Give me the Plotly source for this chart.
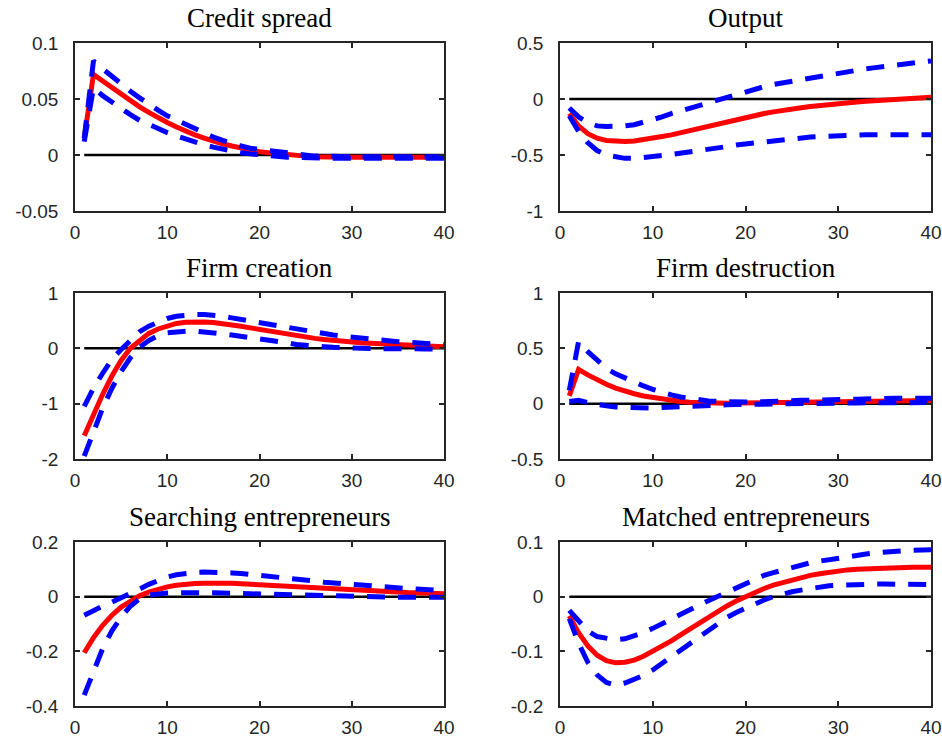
import plotly.graph_objects as go

horizon = list(range(1, 41))

titles = ["Credit spread", "Output", "Firm creation", "Firm destruction",
          "Searching entrepreneurs", "Matched entrepreneurs"]

x_ticks = [0, 10, 20, 30, 40]
x_ticklabels = ["0", "10", "20", "30", "40"]

# ---------------- Credit spread ----------------
cs_med = [0.015, 0.072, 0.066, 0.060, 0.054, 0.048, 0.043, 0.038, 0.033, 0.029,
          0.025, 0.021, 0.018, 0.015, 0.012, 0.010, 0.008, 0.006, 0.004, 0.003,
          0.002, 0.001, 0.000, -0.001, -0.001, -0.0015, -0.002, -0.002, -0.002, -0.002,
          -0.002, -0.002, -0.002, -0.002, -0.002, -0.002, -0.002, -0.002, -0.002, -0.002]
cs_up = [0.015, 0.084, 0.077, 0.070, 0.063, 0.057, 0.051, 0.045, 0.040, 0.035,
         0.031, 0.027, 0.023, 0.019, 0.016, 0.013, 0.010, 0.008, 0.006, 0.005,
         0.003, 0.002, 0.001, 0.000, -0.001, -0.001, -0.001, -0.0015, -0.0015, -0.0015,
         -0.0015, -0.0015, -0.0015, -0.0015, -0.0015, -0.0015, -0.0015, -0.0015, -0.0015, -0.0015]
cs_lo = [0.012, 0.060, 0.053, 0.047, 0.041, 0.036, 0.031, 0.027, 0.023, 0.020,
         0.017, 0.014, 0.011, 0.009, 0.007, 0.005, 0.004, 0.002, 0.001, 0.000,
         -0.001, -0.001, -0.002, -0.002, -0.0025, -0.0025, -0.003, -0.003, -0.003, -0.003,
         -0.003, -0.003, -0.003, -0.003, -0.003, -0.003, -0.003, -0.003, -0.003, -0.003]
cs_yticks = [-0.05, 0, 0.05, 0.1]
cs_yticklabels = ["-0.05", "0", "0.05", "0.1"]

# ---------------- Output ----------------
out_med = [-0.13, -0.24, -0.31, -0.35, -0.37, -0.38, -0.38, -0.375, -0.365, -0.35,
           -0.335, -0.32, -0.30, -0.28, -0.26, -0.24, -0.22, -0.20, -0.18, -0.16,
           -0.145, -0.13, -0.115, -0.10, -0.09, -0.078, -0.067, -0.057, -0.048, -0.04,
           -0.033, -0.026, -0.02, -0.014, -0.009, -0.005, 0.0, 0.005, 0.01, 0.015]
out_up = [-0.08, -0.16, -0.21, -0.24, -0.245, -0.245, -0.24, -0.23, -0.21, -0.185,
          -0.16, -0.13, -0.105, -0.08, -0.055, -0.03, -0.01, 0.015, 0.04, 0.065,
          0.09, 0.11, 0.13, 0.145, 0.16, 0.175, 0.19, 0.205, 0.22, 0.235,
          0.25, 0.26, 0.27, 0.28, 0.29, 0.30, 0.31, 0.32, 0.33, 0.34]
out_lo = [-0.15, -0.29, -0.39, -0.46, -0.50, -0.52, -0.53, -0.53, -0.525, -0.515,
          -0.505, -0.495, -0.485, -0.475, -0.465, -0.455, -0.44, -0.425, -0.41, -0.40,
          -0.39, -0.38, -0.37, -0.36, -0.355, -0.345, -0.34, -0.335, -0.33, -0.325,
          -0.32, -0.32, -0.32, -0.32, -0.32, -0.32, -0.32, -0.32, -0.32, -0.32]
out_yticks = [-1, -0.5, 0, 0.5]
out_yticklabels = ["-1", "-0.5", "0", "0.5"]

# ---------------- Firm creation ----------------
fc_med = [-1.58, -1.19, -0.83, -0.50, -0.22, 0.0, 0.15, 0.27, 0.35, 0.41,
          0.45, 0.47, 0.48, 0.475, 0.465, 0.45, 0.43, 0.40, 0.37, 0.34,
          0.31, 0.28, 0.25, 0.22, 0.20, 0.18, 0.16, 0.14, 0.125, 0.11,
          0.10, 0.09, 0.08, 0.07, 0.06, 0.05, 0.045, 0.04, 0.035, 0.03]
fc_up = [-1.05, -0.72, -0.45, -0.20, -0.02, 0.15, 0.30, 0.40, 0.48, 0.54,
         0.58, 0.60, 0.61, 0.61, 0.60, 0.58, 0.55, 0.52, 0.49, 0.46,
         0.43, 0.40, 0.37, 0.34, 0.31, 0.28, 0.26, 0.24, 0.22, 0.20,
         0.18, 0.16, 0.15, 0.13, 0.12, 0.11, 0.10, 0.09, 0.08, 0.07]
fc_lo = [-1.95, -1.50, -1.08, -0.72, -0.42, -0.17, 0.02, 0.14, 0.23, 0.28,
         0.30, 0.31, 0.31, 0.30, 0.28, 0.26, 0.24, 0.22, 0.20, 0.18,
         0.15, 0.12, 0.10, 0.07, 0.05, 0.04, 0.03, 0.02, 0.01, 0.005,
         0.0, -0.005, -0.005, -0.01, -0.01, -0.01, -0.01, -0.01, -0.01, -0.01]
fc_yticks = [-2, -1, 0, 1]
fc_yticklabels = ["-2", "-1", "0", "1"]

# ---------------- Firm destruction ----------------
fd_med = [0.07, 0.31, 0.26, 0.215, 0.175, 0.14, 0.11, 0.09, 0.07, 0.055,
          0.042, 0.03, 0.02, 0.013, 0.009, 0.006, 0.004, 0.004, 0.005, 0.006,
          0.007, 0.008, 0.01, 0.011, 0.012, 0.014, 0.015, 0.016, 0.018, 0.019,
          0.02, 0.021, 0.022, 0.023, 0.024, 0.025, 0.026, 0.027, 0.028, 0.029]
fd_up = [0.12, 0.56, 0.47, 0.39, 0.32, 0.27, 0.23, 0.19, 0.16, 0.13,
         0.10, 0.08, 0.06, 0.045, 0.035, 0.025, 0.02, 0.015, 0.015, 0.015,
         0.015, 0.02, 0.02, 0.025, 0.025, 0.03, 0.03, 0.035, 0.035, 0.04,
         0.04, 0.04, 0.045, 0.045, 0.045, 0.05, 0.05, 0.05, 0.05, 0.05]
fd_lo = [0.02, 0.03, 0.01, -0.01, -0.02, -0.03, -0.035, -0.04, -0.04, -0.04,
         -0.035, -0.03, -0.025, -0.02, -0.018, -0.015, -0.012, -0.01, -0.008, -0.006,
         -0.005, -0.003, -0.002, 0.0, 0.0, 0.002, 0.003, 0.004, 0.005, 0.006,
         0.007, 0.007, 0.008, 0.008, 0.009, 0.009, 0.01, 0.01, 0.01, 0.01]
fd_yticks = [-0.5, 0, 0.5, 1]
fd_yticklabels = ["-0.5", "0", "0.5", "1"]

# ---------------- Searching entrepreneurs ----------------
se_med = [-0.205, -0.15, -0.105, -0.068, -0.038, -0.015, 0.003, 0.017, 0.028, 0.036,
          0.042, 0.046, 0.048, 0.049, 0.05, 0.05, 0.049, 0.047, 0.045, 0.043,
          0.041, 0.039, 0.037, 0.035, 0.033, 0.031, 0.029, 0.027, 0.025, 0.023,
          0.022, 0.02, 0.019, 0.017, 0.016, 0.015, 0.014, 0.013, 0.012, 0.011]
se_up = [-0.068, -0.05, -0.035, -0.02, -0.005, 0.01, 0.028, 0.045, 0.06, 0.072,
         0.08, 0.086, 0.089, 0.09, 0.09, 0.089, 0.087, 0.085, 0.082, 0.079,
         0.076, 0.072, 0.068, 0.064, 0.06, 0.057, 0.053, 0.05, 0.047, 0.044,
         0.041, 0.038, 0.036, 0.034, 0.032, 0.03, 0.028, 0.026, 0.024, 0.022]
se_lo = [-0.36, -0.27, -0.19, -0.125, -0.075, -0.035, -0.008, 0.006, 0.011, 0.013,
         0.014, 0.015, 0.015, 0.015, 0.014, 0.013, 0.012, 0.011, 0.01, 0.009,
         0.008, 0.007, 0.006, 0.005, 0.004, 0.003, 0.002, 0.001, 0.0, 0.0,
         -0.001, -0.001, -0.001, -0.001, -0.002, -0.002, -0.002, -0.002, -0.002, -0.002]
se_yticks = [-0.4, -0.2, 0, 0.2]
se_yticklabels = ["-0.4", "-0.2", "0", "0.2"]

# ---------------- Matched entrepreneurs ----------------
me_med = [-0.035, -0.066, -0.09, -0.107, -0.117, -0.121, -0.12, -0.116, -0.109, -0.1,
          -0.091, -0.081, -0.07, -0.059, -0.048, -0.037, -0.027, -0.017, -0.008, 0.0,
          0.008, 0.015, 0.021, 0.026, 0.031, 0.035, 0.039, 0.042, 0.045, 0.047,
          0.049, 0.05, 0.051, 0.052, 0.053, 0.054, 0.054, 0.054, 0.054, 0.054]
me_up = [-0.025, -0.045, -0.063, -0.073, -0.077, -0.079, -0.077, -0.072, -0.066, -0.058,
         -0.05, -0.042, -0.033, -0.024, -0.015, -0.007, 0.001, 0.009, 0.017, 0.025,
         0.032, 0.039, 0.044, 0.049, 0.053, 0.058, 0.062, 0.065, 0.068, 0.071,
         0.073, 0.076, 0.078, 0.08, 0.082, 0.083, 0.084, 0.085, 0.086, 0.086]
me_lo = [-0.04, -0.085, -0.12, -0.143, -0.157, -0.162, -0.158, -0.152, -0.144, -0.134,
         -0.122, -0.11, -0.097, -0.085, -0.072, -0.06, -0.049, -0.038, -0.029, -0.021,
         -0.013, -0.006, 0.0, 0.005, 0.009, 0.012, 0.015, 0.018, 0.02, 0.021,
         0.022, 0.023, 0.023, 0.023, 0.023, 0.023, 0.023, 0.022, 0.022, 0.022]
me_yticks = [-0.2, -0.1, 0, 0.1]
me_yticklabels = ["-0.2", "-0.1", "0", "0.1"]

zero_line = [0.0] * 40

panels = [
    (cs_med, cs_up, cs_lo, [-0.05, 0.1], cs_yticks, cs_yticklabels),
    (out_med, out_up, out_lo, [-1, 0.5], out_yticks, out_yticklabels),
    (fc_med, fc_up, fc_lo, [-2, 1], fc_yticks, fc_yticklabels),
    (fd_med, fd_up, fd_lo, [-0.5, 1], fd_yticks, fd_yticklabels),
    (se_med, se_up, se_lo, [-0.4, 0.2], se_yticks, se_yticklabels),
    (me_med, me_up, me_lo, [-0.2, 0.1], me_yticks, me_yticklabels),
]

W, H = 942, 738
col_px = [(75, 444), (560, 931)]
row_px = [(43, 211), (293, 459), (542, 706)]

axis_color = "#262626"
tick_font = dict(family="Liberation Sans, Arial, sans-serif", size=19, color="#262626")
title_font = dict(family="Liberation Serif, Times New Roman, serif", size=27, color="#000000")

fig = go.Figure()
layout = dict(
    template="none",
    width=W, height=H,
    margin=dict(l=0, r=0, t=0, b=0, autoexpand=False),
    paper_bgcolor="white", plot_bgcolor="white",
    showlegend=False,
    annotations=[],
)

for i, (med, up, lo, yr, yt, ytl) in enumerate(panels):
    r, c = divmod(i, 2)
    n = i + 1
    xa = "x" if n == 1 else f"x{n}"
    ya = "y" if n == 1 else f"y{n}"
    x0, x1 = col_px[c]
    y0, y1 = row_px[r]
    xdom = [x0 / W, x1 / W]
    ydom = [1 - y1 / H, 1 - y0 / H]

    fig.add_trace(go.Scatter(x=horizon, y=zero_line, mode="lines",
                             line=dict(color="black", width=2.5),
                             xaxis=xa, yaxis=ya, hoverinfo="skip"))
    fig.add_trace(go.Scatter(x=horizon, y=med, mode="lines",
                             line=dict(color="#ff0000", width=5),
                             xaxis=xa, yaxis=ya))
    for band in (up, lo):
        fig.add_trace(go.Scatter(x=horizon, y=band, mode="lines",
                                 line=dict(color="#0000ff", width=5, dash="18px,13px"),
                                 xaxis=xa, yaxis=ya))

    axcommon = dict(showgrid=False, zeroline=False, showline=True, linecolor=axis_color,
                    linewidth=1.5, mirror="allticks", ticks="inside", ticklen=5,
                    tickwidth=1.5, tickcolor=axis_color, tickfont=tick_font,
                    automargin=False, ticklabeloverflow="allow")
    layout["xaxis" if n == 1 else f"xaxis{n}"] = dict(
        axcommon, domain=xdom, range=[0, 40], tickvals=x_ticks, ticktext=x_ticklabels,
        anchor=ya, ticklabelstandoff=3)
    layout["yaxis" if n == 1 else f"yaxis{n}"] = dict(
        axcommon, domain=ydom, range=yr, tickvals=yt, ticktext=ytl,
        anchor=xa, ticklabelstandoff=11)
    layout["annotations"].append(dict(
        text=titles[i], xref="paper", yref="paper",
        x=(xdom[0] + xdom[1]) / 2, y=ydom[1], xanchor="center", yanchor="bottom",
        yshift=8, showarrow=False, font=title_font))

fig.update_layout(**layout)
fig.write_html("out.html",
               config={"displayModeBar": False},
               post_script="document.body.style.margin='0px';document.body.style.overflow='hidden';")
